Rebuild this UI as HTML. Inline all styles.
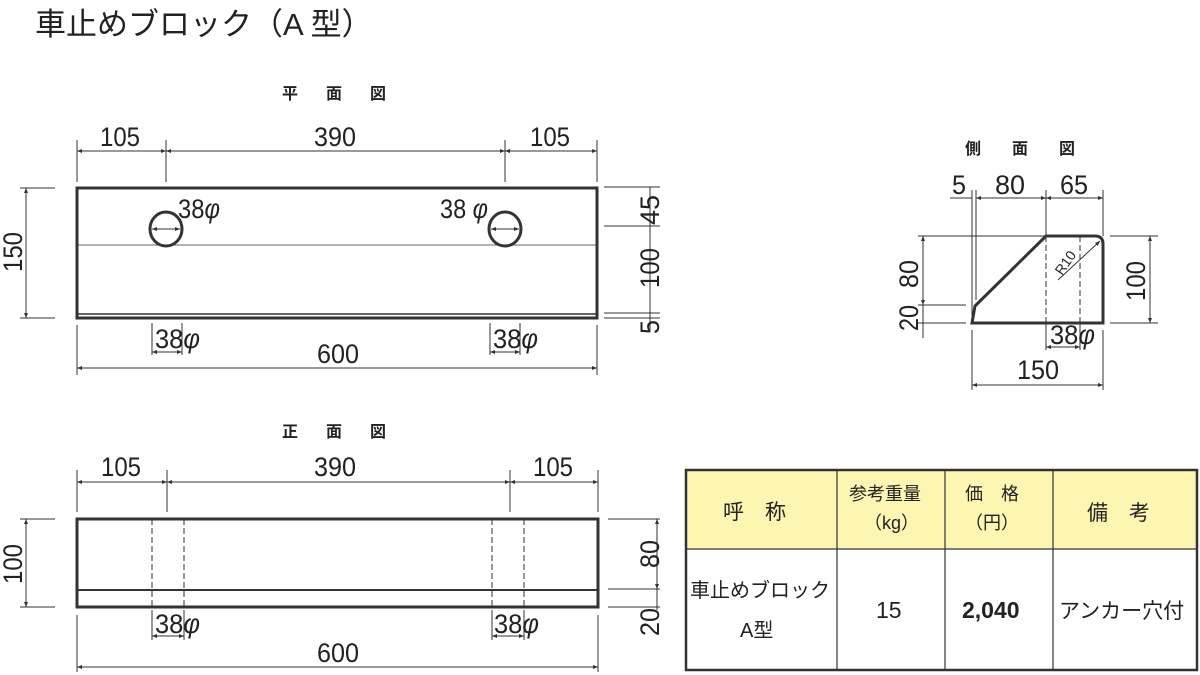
<!DOCTYPE html>
<html><head><meta charset="utf-8"><style>
html,body{margin:0;padding:0;background:#fff;}
svg{display:block;}
text{font-family:"Liberation Sans","Noto Sans CJK JP",sans-serif;fill:#222;}
.d{font-size:27px;}
.t{font-size:16px;font-weight:bold;}
.th{font-size:21px;}
</style></head><body>
<svg width="1200" height="675" viewBox="0 0 1200 675" xmlns="http://www.w3.org/2000/svg">
<defs>
<marker id="a" viewBox="0 0 10 10" refX="10" refY="5" markerWidth="7" markerHeight="5" orient="auto-start-reverse"><path d="M0,1 L10,5 L0,9 z" fill="#333"/></marker>
</defs>
<text x="35" y="35" style="font-size:31px" fill="#222">車止めブロック（A 型）</text>

<!-- Plan view -->
<text class="t" x="282" y="99" textLength="104">平 面 図</text>
<g stroke="#333" stroke-width="1" fill="none">
<line x1="77" y1="140" x2="77" y2="182"/><line x1="166" y1="140" x2="166" y2="182"/><line x1="505" y1="140" x2="505" y2="182"/><line x1="597" y1="140" x2="597" y2="182"/>
<line x1="77" y1="151" x2="166" y2="151" marker-start="url(#a)" marker-end="url(#a)"/>
<line x1="166" y1="151" x2="505" y2="151" marker-start="url(#a)" marker-end="url(#a)"/>
<line x1="505" y1="151" x2="597" y2="151" marker-start="url(#a)" marker-end="url(#a)"/>
<line x1="20" y1="188" x2="55" y2="188"/><line x1="20" y1="318" x2="55" y2="318"/>
<line x1="26" y1="188" x2="26" y2="318" marker-start="url(#a)" marker-end="url(#a)"/>
<line x1="604" y1="187" x2="660" y2="187"/><line x1="604" y1="226" x2="660" y2="226"/><line x1="604" y1="313" x2="660" y2="313"/><line x1="604" y1="318" x2="660" y2="318"/>
<line x1="650" y1="187" x2="650" y2="330"/>
<line x1="77" y1="245" x2="597" y2="245" stroke-width="0.8"/>
<line x1="77" y1="325" x2="77" y2="375"/><line x1="597" y1="325" x2="597" y2="375"/>
<line x1="77" y1="368" x2="597" y2="368" marker-start="url(#a)" marker-end="url(#a)"/>
<line x1="152" y1="323" x2="152" y2="355"/><line x1="182" y1="323" x2="182" y2="355"/>
<line x1="152" y1="352" x2="182" y2="352" marker-start="url(#a)" marker-end="url(#a)"/>
<line x1="490" y1="323" x2="490" y2="355"/><line x1="520" y1="323" x2="520" y2="355"/>
<line x1="490" y1="352" x2="520" y2="352" marker-start="url(#a)" marker-end="url(#a)"/>
</g>
<rect x="77" y="188" width="520" height="130" fill="none" stroke="#333" stroke-width="3"/>
<line x1="77" y1="314" x2="597" y2="314" stroke="#333" stroke-width="1.5"/>
<ellipse cx="166" cy="229" rx="16" ry="17" fill="none" stroke="#333" stroke-width="3"/>
<ellipse cx="505" cy="229" rx="16" ry="17" fill="none" stroke="#333" stroke-width="3"/>
<line x1="152" y1="229" x2="180" y2="229" stroke="#333" marker-start="url(#a)" marker-end="url(#a)"/>
<line x1="491" y1="229" x2="519" y2="229" stroke="#333" marker-start="url(#a)" marker-end="url(#a)"/>
<text class="d" x="100" y="146" textLength="40" lengthAdjust="spacingAndGlyphs">105</text>
<text class="d" x="314" y="146" textLength="42" lengthAdjust="spacingAndGlyphs">390</text>
<text class="d" x="530" y="146" textLength="40" lengthAdjust="spacingAndGlyphs">105</text>
<text class="d" x="178" y="218" textLength="42" lengthAdjust="spacingAndGlyphs">38<tspan font-style="italic">φ</tspan></text>
<text class="d" x="440" y="218" textLength="48" lengthAdjust="spacingAndGlyphs">38 <tspan font-style="italic">φ</tspan></text>
<text class="d" transform="translate(22,272) rotate(-90)" textLength="40" lengthAdjust="spacingAndGlyphs">150</text>
<text class="d" transform="translate(659,225) rotate(-90)" textLength="30" lengthAdjust="spacingAndGlyphs">45</text>
<text class="d" transform="translate(659,288) rotate(-90)" textLength="40" lengthAdjust="spacingAndGlyphs">100</text>
<text class="d" transform="translate(659,334) rotate(-90)" textLength="14" lengthAdjust="spacingAndGlyphs">5</text>
<text class="d" x="155" y="348" textLength="45" lengthAdjust="spacingAndGlyphs">38<tspan font-style="italic">φ</tspan></text>
<text class="d" x="493" y="348" textLength="45" lengthAdjust="spacingAndGlyphs">38<tspan font-style="italic">φ</tspan></text>
<text class="d" x="317" y="363" textLength="42" lengthAdjust="spacingAndGlyphs">600</text>

<!-- Front view -->
<text class="t" x="282" y="437" textLength="104">正 面 図</text>
<g stroke="#333" stroke-width="1" fill="none">
<line x1="77" y1="470" x2="77" y2="512"/><line x1="167" y1="470" x2="167" y2="512"/><line x1="510" y1="470" x2="510" y2="512"/><line x1="598" y1="470" x2="598" y2="512"/>
<line x1="77" y1="482" x2="167" y2="482" marker-start="url(#a)" marker-end="url(#a)"/>
<line x1="167" y1="482" x2="510" y2="482" marker-start="url(#a)" marker-end="url(#a)"/>
<line x1="510" y1="482" x2="598" y2="482" marker-start="url(#a)" marker-end="url(#a)"/>
<line x1="20" y1="519" x2="55" y2="519"/><line x1="20" y1="607" x2="55" y2="607"/>
<line x1="26" y1="519" x2="26" y2="607" marker-start="url(#a)" marker-end="url(#a)"/>
<line x1="608" y1="519" x2="660" y2="519"/><line x1="608" y1="589" x2="660" y2="589"/><line x1="608" y1="607" x2="660" y2="607"/>
<line x1="657" y1="519" x2="657" y2="589" marker-start="url(#a)" marker-end="url(#a)"/>
<line x1="657" y1="589" x2="657" y2="610"/>
<line x1="152" y1="610" x2="152" y2="640"/><line x1="184" y1="610" x2="184" y2="640"/>
<line x1="152" y1="636" x2="184" y2="636" marker-start="url(#a)" marker-end="url(#a)"/>
<line x1="492" y1="610" x2="492" y2="640"/><line x1="524" y1="610" x2="524" y2="640"/>
<line x1="492" y1="636" x2="524" y2="636" marker-start="url(#a)" marker-end="url(#a)"/>
<line x1="77" y1="615" x2="77" y2="672"/><line x1="598" y1="615" x2="598" y2="672"/>
<line x1="77" y1="667" x2="598" y2="667" marker-start="url(#a)" marker-end="url(#a)"/>
<g stroke-dasharray="6,3"><line x1="152" y1="519" x2="152" y2="607"/><line x1="184" y1="519" x2="184" y2="607"/><line x1="492" y1="519" x2="492" y2="607"/><line x1="524" y1="519" x2="524" y2="607"/></g>
</g>
<rect x="77" y="519" width="521" height="88" fill="none" stroke="#333" stroke-width="3"/>
<line x1="77" y1="590" x2="598" y2="590" stroke="#333" stroke-width="2"/>
<text class="d" x="101" y="476" textLength="40" lengthAdjust="spacingAndGlyphs">105</text>
<text class="d" x="314" y="476" textLength="42" lengthAdjust="spacingAndGlyphs">390</text>
<text class="d" x="533" y="476" textLength="40" lengthAdjust="spacingAndGlyphs">105</text>
<text class="d" transform="translate(22,584) rotate(-90)" textLength="40" lengthAdjust="spacingAndGlyphs">100</text>
<text class="d" transform="translate(659,568) rotate(-90)" textLength="28" lengthAdjust="spacingAndGlyphs">80</text>
<text class="d" transform="translate(659,636) rotate(-90)" textLength="28" lengthAdjust="spacingAndGlyphs">20</text>
<text class="d" x="155" y="633" textLength="45" lengthAdjust="spacingAndGlyphs">38<tspan font-style="italic">φ</tspan></text>
<text class="d" x="494" y="633" textLength="45" lengthAdjust="spacingAndGlyphs">38<tspan font-style="italic">φ</tspan></text>
<text class="d" x="317" y="662" textLength="42" lengthAdjust="spacingAndGlyphs">600</text>

<!-- Side view -->
<text class="t" x="965" y="154" textLength="110">側 面 図</text>
<g stroke="#333" stroke-width="1" fill="none">
<line x1="950" y1="198" x2="972" y2="198"/>
<line x1="972" y1="190" x2="972" y2="318"/><line x1="976" y1="190" x2="976" y2="300"/>
<line x1="1046" y1="190" x2="1046" y2="236"/><line x1="1103" y1="190" x2="1103" y2="236"/>
<line x1="976" y1="198" x2="1046" y2="198" marker-start="url(#a)" marker-end="url(#a)"/>
<line x1="1046" y1="198" x2="1103" y2="198" marker-start="url(#a)" marker-end="url(#a)"/>
<line x1="918" y1="236" x2="1045" y2="236"/><line x1="918" y1="305" x2="966" y2="305"/><line x1="918" y1="323" x2="966" y2="323"/>
<line x1="923" y1="236" x2="923" y2="305" marker-start="url(#a)" marker-end="url(#a)"/>
<line x1="923" y1="305" x2="923" y2="338"/>
<line x1="1110" y1="236" x2="1158" y2="236"/><line x1="1110" y1="323" x2="1158" y2="323"/>
<line x1="1150" y1="236" x2="1150" y2="323" marker-start="url(#a)" marker-end="url(#a)"/>
<line x1="1046" y1="323" x2="1046" y2="350"/><line x1="1080" y1="323" x2="1080" y2="350"/>
<line x1="1046" y1="347" x2="1080" y2="347" marker-start="url(#a)" marker-end="url(#a)"/>
<line x1="972" y1="330" x2="972" y2="390"/><line x1="1103" y1="330" x2="1103" y2="390"/>
<line x1="972" y1="385" x2="1103" y2="385" marker-start="url(#a)" marker-end="url(#a)"/>
<g stroke-dasharray="6,3"><line x1="1046" y1="236" x2="1046" y2="323"/><line x1="1080" y1="236" x2="1080" y2="323"/></g>
<line x1="1058" y1="280" x2="1100" y2="241" marker-end="url(#a)"/>
</g>
<path d="M972,323 L975,306 L1046,236 L1095,236 Q1103,236 1103,244 L1103,323 Z" fill="none" stroke="#333" stroke-width="3"/>
<text class="d" x="952" y="194" textLength="14" lengthAdjust="spacingAndGlyphs">5</text>
<text class="d" x="995" y="194" textLength="30" lengthAdjust="spacingAndGlyphs">80</text>
<text class="d" x="1060" y="194" textLength="28" lengthAdjust="spacingAndGlyphs">65</text>
<text class="d" transform="translate(918,288) rotate(-90)" textLength="28" lengthAdjust="spacingAndGlyphs">80</text>
<text class="d" transform="translate(918,331) rotate(-90)" textLength="26" lengthAdjust="spacingAndGlyphs">20</text>
<text class="d" transform="translate(1145,301) rotate(-90)" textLength="40" lengthAdjust="spacingAndGlyphs">100</text>
<text style="font-size:14px" transform="translate(1062,276) rotate(-55)">R10</text>
<text class="d" x="1050" y="344" textLength="45" lengthAdjust="spacingAndGlyphs">38<tspan font-style="italic">φ</tspan></text>
<text class="d" x="1017" y="379" textLength="42" lengthAdjust="spacingAndGlyphs">150</text>

<!-- Table -->
<rect x="686" y="470" width="511" height="79" fill="#fcf6b2"/>
<g stroke="#333" fill="none">
<rect x="686" y="470" width="511" height="200" stroke-width="2.5"/>
<line x1="686" y1="549" x2="1197" y2="549" stroke-width="1.2"/>
<line x1="837" y1="470" x2="837" y2="670" stroke-width="1.2"/>
<line x1="945" y1="470" x2="945" y2="670" stroke-width="1.2"/>
<line x1="1053" y1="470" x2="1053" y2="670" stroke-width="1.2"/>
</g>
<text class="th" x="723" y="519">呼　称</text>
<text style="font-size:18px" x="849" y="500">参考重量</text>
<text style="font-size:18px" x="864" y="529">（kg）</text>
<text style="font-size:18px" x="965" y="500">価　格</text>
<text style="font-size:18px" x="965" y="529">（円）</text>
<text class="th" x="1087" y="520">備　考</text>
<text style="font-size:20px" x="690" y="597">車止めブロック</text>
<text style="font-size:20px" x="740" y="637">A型</text>
<text style="font-size:23px" x="876" y="618">15</text>
<text style="font-size:23px;font-weight:bold" x="962" y="618">2,040</text>
<text style="font-size:21px" x="1059" y="618">アンカー穴付</text>
</svg>
</body></html>
